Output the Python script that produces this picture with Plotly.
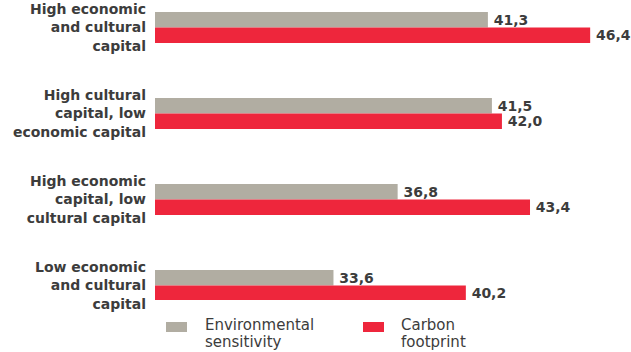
import plotly.graph_objects as go

categories = [
    "High economic<br>and cultural<br>capital",
    "High cultural<br>capital, low<br>economic capital",
    "High economic<br>capital, low<br>cultural capital",
    "Low economic<br>and cultural<br>capital",
]
env_sensitivity = [41.3, 41.5, 36.8, 33.6]
carbon_footprint = [46.4, 42.0, 43.4, 40.2]
series_names = [["Environmental", "sensitivity"], ["Carbon", "footprint"]]

GRAY = "#b1ada2"
RED = "#ee263c"
TXT = "#3c3c3c"
FONT = "DejaVu Sans"


def fmt(vals):
    return ["\u2009" + f"{v:.1f}".replace(".", ",") for v in vals]


fig = go.Figure()
for vals, color in [(env_sensitivity, GRAY), (carbon_footprint, RED)]:
    fig.add_trace(go.Bar(
        y=categories, x=vals, orientation="h",
        marker=dict(color=color, line=dict(width=0)),
        text=fmt(vals), textposition="outside",
        textfont=dict(family=FONT, size=14, color=TXT, weight="bold"),
        constraintext="none", cliponaxis=False,
        showlegend=False,
    ))

L, R, T, B = 155, 31, 0, 52
W, H = 631, 352
pw, ph = W - L - R, H - T - B

def px(x):
    return (x - L) / pw

def py(y):
    return (ph + T - y) / ph

legend_items = [(166, 187, 203, GRAY, series_names[0]), (363, 384, 399, RED, series_names[1])]
shapes, annos = [], []
for x0, x1, tx, color, lines in legend_items:
    shapes.append(dict(type="rect", xref="paper", yref="paper",
                       x0=px(x0), x1=px(x1), y0=py(332), y1=py(322),
                       fillcolor=color, line=dict(width=0)))
    for i, line in enumerate(lines):
        annos.append(dict(xref="paper", yref="paper", x=px(tx), y=py(325 + 17 * i),
                          xanchor="left", yanchor="middle", align="left", showarrow=False,
                          text=line, font=dict(family=FONT, size=15, color=TXT)))

fig.update_layout(
    width=W, height=H,
    margin=dict(l=L, r=R, t=T, b=B),
    barmode="group", bargap=0.64, bargroupgap=0,
    plot_bgcolor="white", paper_bgcolor="white",
    xaxis=dict(range=[24.7, 46.89], visible=False),
    yaxis=dict(range=[3.168, -0.3198], showgrid=False, zeroline=False, showline=False,
               ticks="", ticklabelstandoff=8,
               tickfont=dict(family=FONT, size=14, color=TXT, weight="bold")),
    shapes=shapes, annotations=annos,
)

fig.write_html("out.html")
